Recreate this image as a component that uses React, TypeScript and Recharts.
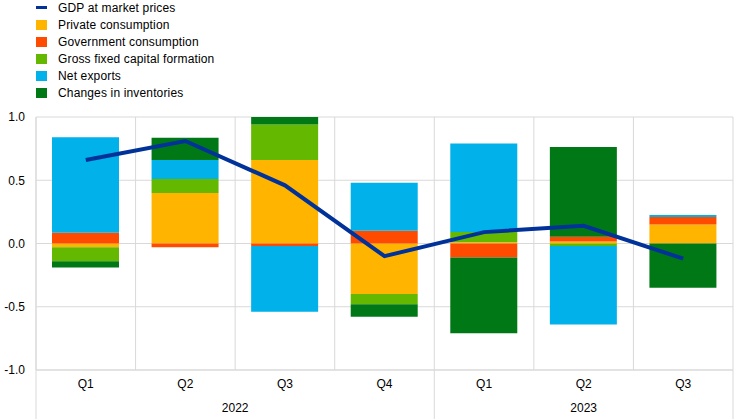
import React from 'react';
import { ComposedChart, Bar, Line, XAxis, YAxis, CartesianGrid } from 'recharts';

const quarters = ['Q1', 'Q2', 'Q3', 'Q4', 'Q1', 'Q2', 'Q3'];
const years = ['2022', '2022', '2022', '2022', '2023', '2023', '2023'];

const gdp = [0.66, 0.81, 0.46, -0.1, 0.09, 0.14, -0.12];
const privateCons = [-0.03, 0.4, 0.66, -0.4, 0.01, 0.016, 0.15];
const govCons = [0.085, -0.03, -0.02, 0.1, -0.11, 0.037, 0.06];
const gfcf = [-0.11, 0.11, 0.28, -0.08, 0.08, -0.02, 0.0];
const netExports = [0.755, 0.15, -0.52, 0.38, 0.7, -0.62, 0.015];
const inventories = [-0.05, 0.175, 0.06, -0.1, -0.6, 0.71, -0.35];

const yTicks = [-1, -0.5, 0, 0.5, 1];

const series = [
  { key: 'private', name: 'Private consumption', color: '#FFB400' },
  { key: 'gov', name: 'Government consumption', color: '#FF4B00' },
  { key: 'gfcf', name: 'Gross fixed capital formation', color: '#65B800' },
  { key: 'nx', name: 'Net exports', color: '#00B1EA' },
  { key: 'inv', name: 'Changes in inventories', color: '#007816' },
];
const GDP_COLOR = '#003299';

const data = quarters.map((q, i) => ({
  key: `${years[i]} ${q}`,
  quarter: q,
  year: years[i],
  gdp: gdp[i],
  private: privateCons[i],
  gov: govCons[i],
  gfcf: gfcf[i],
  nx: netExports[i],
  inv: inventories[i],
}));

const W = 744;
const H = 419;
const LEFT = 36;
const RIGHT = 11;
const TOP = 117;
const AXIS_H = 49;
const PLOT_W = W - LEFT - RIGHT;
const BAND = PLOT_W / data.length;
const GRID = '#d9d9d9';
const FONT = '"Liberation Sans", Arial, sans-serif';

const XTick = (props: any) => {
  const { x, y, index } = props;
  const d = data[index];
  if (!d) return null;
  const first = index === 0 || data[index - 1].year !== d.year;
  const last = index === data.length - 1;
  const count = data.filter((r) => r.year === d.year).length;
  return (
    <g>
      <text x={x} y={y + 18} textAnchor="middle" fontSize={12} fontFamily={FONT} fill="#000">
        {d.quarter}
      </text>
      {first && (
        <>
          <line x1={x - BAND / 2} x2={x - BAND / 2} y1={y} y2={H} stroke={GRID} />
          <text x={x + ((count - 1) * BAND) / 2} y={y + 42} textAnchor="middle" fontSize={12} fontFamily={FONT} fill="#000">
            {d.year}
          </text>
        </>
      )}
      {last && <line x1={x + BAND / 2} x2={x + BAND / 2} y1={y} y2={H} stroke={GRID} />}
    </g>
  );
};

const Legend = () => (
  <div style={{ position: 'absolute', left: 0, top: 0, fontFamily: FONT, fontSize: 12, color: '#000' }}>
    {[{ key: 'gdp', name: 'GDP at market prices', color: GDP_COLOR }, ...series].map((s, i) => (
      <div key={s.key} style={{ position: 'absolute', top: i * 17, left: 0, height: 16, width: 300 }}>
        <div
          style={{
            position: 'absolute',
            left: 36,
            top: s.key === 'gdp' ? 6 : 3,
            width: 11,
            height: s.key === 'gdp' ? 3 : 10,
            background: s.color,
          }}
        />
        <span
          style={{
            position: 'absolute',
            left: 58,
            top: 1,
            whiteSpace: 'nowrap',
            lineHeight: '14px',
            letterSpacing: '0.15px',
          }}
        >
          {s.name}
        </span>
      </div>
    ))}
  </div>
);

export default function App() {
  const verticalPoints = data.map((_, i) => LEFT + i * BAND).concat([LEFT + PLOT_W]);
  return (
    <div style={{ position: 'absolute', left: 0, top: 0, width: W, height: H, background: '#fff' }}>
      <ComposedChart
        width={W}
        height={H}
        data={data}
        stackOffset="sign"
        margin={{ top: TOP, right: RIGHT, bottom: 0, left: 0 }}
      >
        <CartesianGrid stroke={GRID} verticalPoints={verticalPoints} />
        <XAxis
          dataKey="key"
          height={AXIS_H}
          axisLine={{ stroke: GRID }}
          tickLine={false}
          tickSize={0}
          tickMargin={0}
          interval={0}
          tick={<XTick />}
        />
        <YAxis
          width={LEFT}
          domain={[-1, 1]}
          ticks={yTicks}
          tickFormatter={(v: number) => v.toFixed(1)}
          axisLine={{ stroke: GRID }}
          tickLine={false}
          tickMargin={5}
          tick={{ fontSize: 12, fontFamily: FONT, fill: '#000' }}
        />
        {series.map((s) => (
          <Bar
            key={s.key}
            dataKey={s.key}
            name={s.name}
            stackId="a"
            fill={s.color}
            barSize={67}
            isAnimationActive={false}
          />
        ))}
        <Line
          type="linear"
          dataKey="gdp"
          name="GDP at market prices"
          stroke={GDP_COLOR}
          strokeWidth={4}
          dot={false}
          activeDot={false}
          isAnimationActive={false}
        />
      </ComposedChart>
      <Legend />
    </div>
  );
}
